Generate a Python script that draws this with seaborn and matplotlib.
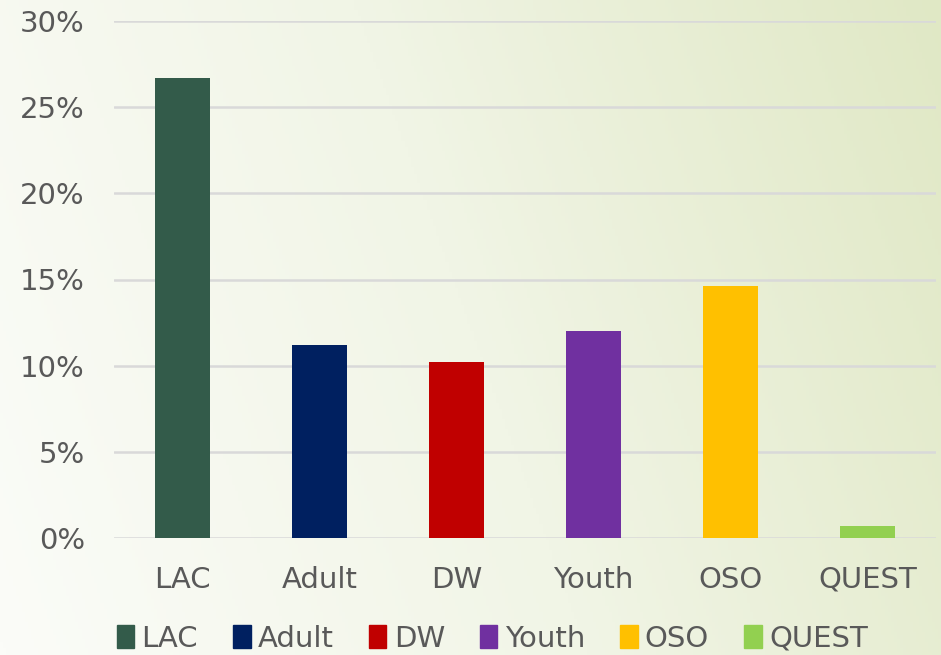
import numpy as np
import pandas as pd
import matplotlib.pyplot as plt
import seaborn as sns
from matplotlib.colors import LinearSegmentedColormap
from matplotlib.ticker import PercentFormatter

# data
programs = ["LAC", "Adult", "DW", "Youth", "OSO", "QUEST"]
shares = [26.7, 11.2, 10.2, 12.0, 14.6, 0.7]
colors = ["#335B4A", "#002060", "#C00000", "#7030A0", "#FFC000", "#92D050"]
yticks = [0, 5, 10, 15, 20, 25, 30]

df = pd.DataFrame({"program": programs, "share": shares})

sns.set_style("white")
plt.rcParams["font.family"] = ["DejaVu Sans"]
text_col = "#595959"

fig = plt.figure(figsize=(9.41, 6.55), dpi=100)

# soft diagonal background gradient
bg = fig.add_axes([0, 0, 1, 1], zorder=-10)
xx, yy = np.meshgrid(np.linspace(0, 1, 300), np.linspace(0, 1, 200))
grad = 0.8 * xx + 0.2 * yy
cmap = LinearSegmentedColormap.from_list("bg", ["#FBFCF8", "#F1F5E6", "#E0E8C5"])
bg.imshow(grad, cmap=cmap, aspect="auto", origin="lower", extent=[0, 1, 0, 1])
bg.axis("off")

ax = fig.add_axes([114 / 941, 1 - 538 / 655, (936 - 114) / 941, (538 - 21) / 655])
ax.patch.set_alpha(0)

sns.barplot(data=df, x="program", y="share", hue="program", palette=colors,
            width=0.4, dodge=False, legend=False, ax=ax, saturation=1, linewidth=0)

ax.set_ylim(0, 30)
ax.set_yticks(yticks)
ax.yaxis.set_major_formatter(PercentFormatter(decimals=0))
ax.grid(axis="y", color="#D9D9D9", linewidth=1.8)
ax.set_axisbelow(True)
for s in ax.spines.values():
    s.set_visible(False)
ax.set_xlabel("")
ax.set_ylabel("")
ax.tick_params(axis="both", length=0, labelsize=21, colors=text_col)
ax.tick_params(axis="x", pad=20)
ax.tick_params(axis="y", pad=21)

handles = [plt.Rectangle((0, 0), 1, 1, color=c) for c in colors]
fig.legend(handles, programs, loc="center", bbox_to_anchor=(0.523, 0.025),
           ncol=6, frameon=False, fontsize=21, labelcolor=text_col,
           handlelength=0.6, handleheight=0.8, handletextpad=0.25, columnspacing=1.2)

fig.savefig("out.png", dpi=100)
